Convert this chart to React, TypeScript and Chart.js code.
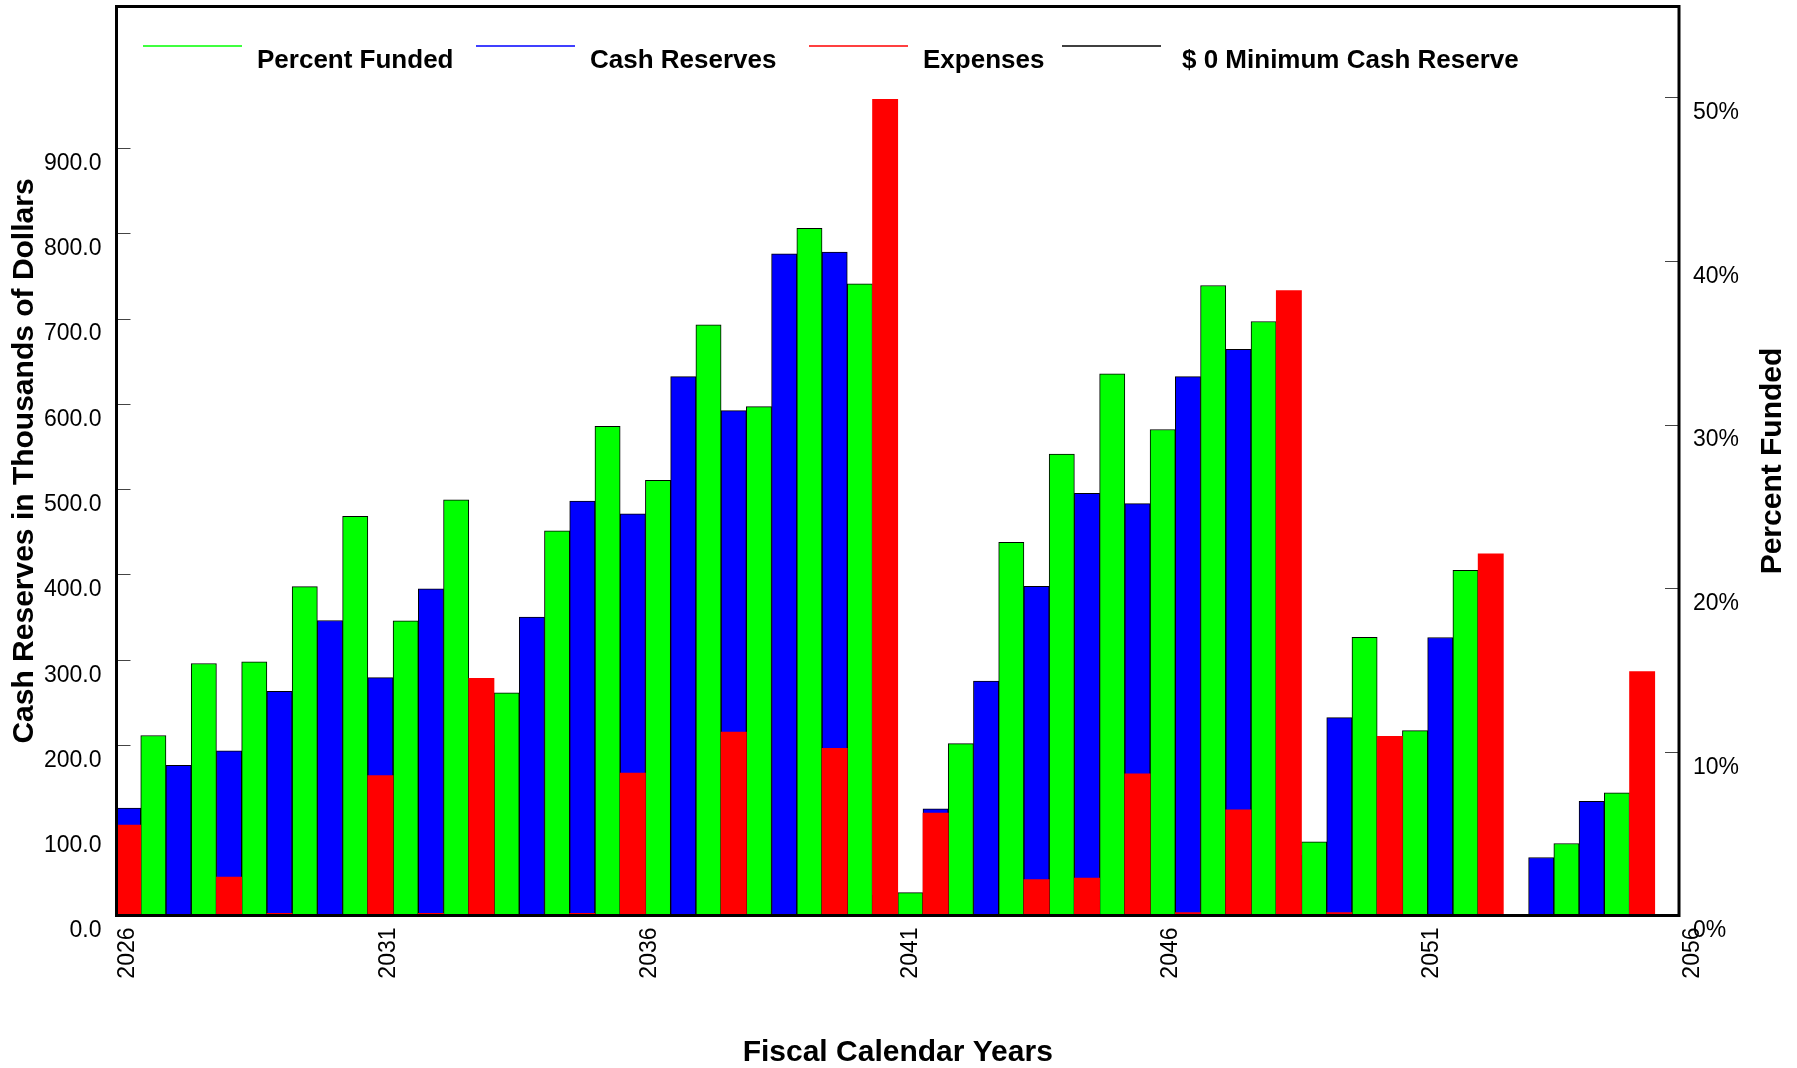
import React, { useEffect, useRef } from 'react';
import { Chart, registerables } from 'chart.js';

Chart.register(...registerables);

// ---- data ----
const years = [
  '2026', '2027', '2028', '2029', '2030', '2031', '2032', '2033', '2034', '2035',
  '2036', '2037', '2038', '2039', '2040', '2041', '2042', '2043', '2044', '2045',
  '2046', '2047', '2048', '2049', '2050', '2051', '2052', '2053', '2054', '2055', '2056',
];
const cashReserves = [
  126, 176, 193, 263, 346, 279, 383, 200, 350, 486,
  471, 632, 592, 776, 778, 24, 125, 275, 386, 495,
  483, 632, 664, 71, 232, 170, 326, 0, 68, 134, 0,
];
const expenses = [
  106, 0, 45, 2.5, 0, 164, 2.5, 278, 0, 2.5,
  167, 0, 215, 0, 196, 957, 120, 0, 42, 44,
  166, 3.5, 124, 733, 3.5, 210, 0, 424, 0, 0, 286,
];
const percentFunded = [
  11.0, 15.4, 15.5, 20.1, 24.4, 18.0, 25.4, 13.6, 23.5, 29.9,
  26.6, 36.1, 31.1, 42.0, 38.6, 1.4, 10.5, 22.8, 28.2, 33.1,
  29.7, 38.5, 36.3, 4.5, 17.0, 11.3, 21.1, 0, 4.4, 7.5, 0,
];
const minimumReserve = [
  0, 0, 0, 0, 0, 0, 0, 0, 0, 0,
  0, 0, 0, 0, 0, 0, 0, 0, 0, 0,
  0, 0, 0, 0, 0, 0, 0, 0, 0, 0, 0,
];
const cashTicks = [0, 100, 200, 300, 400, 500, 600, 700, 800, 900];
const percentTicks = [0, 10, 20, 30, 40, 50];
const yearTicks = [2026, 2031, 2036, 2041, 2046, 2051, 2056];

const FONT = '"Liberation Sans", Arial, Helvetica, sans-serif';
const RIGHT_TITLE = 'Percent Funded';

const innerTicksPlugin = {
  id: 'innerTicks',
  beforeDatasetsDraw(chart: any) {
    const { ctx, chartArea } = chart;
    ctx.save();
    ctx.strokeStyle = '#444';
    ctx.lineWidth = 1;
    const y = chart.scales.y;
    for (const t of y.ticks) {
      const py = Math.round(y.getPixelForValue(t.value)) + 0.5;
      ctx.beginPath();
      ctx.moveTo(chartArea.left, py);
      ctx.lineTo(chartArea.left + 15, py);
      ctx.stroke();
    }
    const y1 = chart.scales.y1;
    for (const t of y1.ticks) {
      const py = Math.round(y1.getPixelForValue(t.value)) + 0.5;
      ctx.beginPath();
      ctx.moveTo(chartArea.right - 15, py);
      ctx.lineTo(chartArea.right, py);
      ctx.stroke();
    }
    ctx.restore();
  },
};

const framePlugin = {
  id: 'frame',
  afterDatasetsDraw(chart: any) {
    const { ctx, chartArea } = chart;
    ctx.save();
    ctx.strokeStyle = '#000';
    ctx.lineWidth = 3;
    ctx.strokeRect(chartArea.left + 1, chartArea.top, chartArea.right - chartArea.left - 2, chartArea.bottom - chartArea.top);
    ctx.restore();
  },
};

const legendPlugin = {
  id: 'customLegend',
  afterDraw(chart: any) {
    const { ctx } = chart;
    const lineStarts = [143, 476, 809, 1062];
    const textStarts = [257, 590, 923, 1182];
    ctx.save();
    ctx.font = `bold 26px ${FONT}`;
    ctx.textBaseline = 'alphabetic';
    ctx.textAlign = 'left';
    chart.data.datasets.forEach((ds: any, i: number) => {
      const x0 = lineStarts[i];
      ctx.strokeStyle = ds.legendColor;
      ctx.lineWidth = 1.5;
      ctx.beginPath();
      ctx.moveTo(x0, 46);
      ctx.lineTo(x0 + 99, 46);
      ctx.stroke();
      ctx.fillStyle = '#000';
      ctx.fillText(ds.label, textStarts[i], 68);
    });
    // right axis title, reading bottom to top
    const ca = chart.chartArea;
    ctx.translate(chart.width - 24, (ca.top + ca.bottom) / 2);
    ctx.rotate(-Math.PI / 2);
    ctx.font = `bold 30px ${FONT}`;
    ctx.textAlign = 'center';
    ctx.textBaseline = 'middle';
    ctx.fillText(RIGHT_TITLE, 0, 0);
    ctx.restore();
  },
};

export default function App() {
  const ref = useRef<HTMLCanvasElement | null>(null);

  useEffect(() => {
    document.body.style.margin = '0';
    const canvas = ref.current;
    if (!canvas) return;
    const chart = new Chart(canvas, {
      type: 'bar',
      data: {
        labels: years,
        datasets: [
          {
            type: 'bar',
            label: 'Percent Funded',
            data: percentFunded,
            backgroundColor: '#00FF00',
            borderColor: '#000',
            borderWidth: 1,
            legendColor: '#00FF00',
            xAxisID: 'x',
            yAxisID: 'y1',
            stack: 'b',
            order: 2,
            categoryPercentage: 1,
            barPercentage: 1,
          } as any,
          {
            type: 'bar',
            label: 'Cash Reserves',
            data: cashReserves,
            backgroundColor: '#0000FF',
            borderColor: '#000',
            borderWidth: 1,
            legendColor: '#0000FF',
            xAxisID: 'x',
            yAxisID: 'y',
            stack: 'a',
            order: 1,
            categoryPercentage: 1,
            barPercentage: 1,
          } as any,
          {
            type: 'bar',
            label: 'Expenses',
            data: expenses,
            backgroundColor: '#FF0000',
            borderWidth: 0,
            legendColor: '#FF0000',
            xAxisID: 'x',
            yAxisID: 'y',
            stack: 'a',
            order: 0,
            categoryPercentage: 1,
            barPercentage: 1,
          } as any,
          {
            type: 'line',
            label: '$ 0 Minimum Cash Reserve',
            data: minimumReserve,
            borderColor: '#000',
            borderWidth: 1,
            pointRadius: 0,
            legendColor: '#000',
            xAxisID: 'x',
            yAxisID: 'y',
            order: -1,
          } as any,
        ],
      },
      options: {
        responsive: false,
        animation: false,
        layout: { padding: { top: 6.5, left: 0, right: 0, bottom: 0 } },
        plugins: {
          legend: { display: false },
          tooltip: { enabled: false },
        },
        scales: {
          x: { type: 'category', display: false },
          xl: {
            type: 'linear',
            position: 'bottom',
            offset: false,
            min: 2026,
            max: 2056,
            afterBuildTicks: (s: any) => {
              s.ticks = yearTicks.map((v) => ({ value: v }));
            },
            afterFit: (s: any) => {
              s.height = 152.5;
              s.paddingLeft = 0;
              s.paddingRight = 0;
            },
            grid: { display: false, drawTicks: false, offset: false },
            border: { display: false },
            ticks: {
              autoSkip: false,
              maxRotation: 90,
              minRotation: 90,
              padding: 12,
              labelOffset: 12.5,
              color: '#000',
              font: { family: FONT, size: 23 },
              callback: (v: any) => String(v),
            },
            title: {
              display: true,
              text: 'Fiscal Calendar Years',
              color: '#000',
              font: { family: FONT, size: 30, weight: 'bold' },
              padding: { top: 0, bottom: -3 },
            },
          },
          y: {
            type: 'linear',
            position: 'left',
            min: 0,
            max: 1066,
            stacked: false,
            afterBuildTicks: (s: any) => {
              s.ticks = cashTicks.map((v) => ({ value: v }));
            },
            afterFit: (s: any) => {
              s.width = 115.5;
              s.paddingTop = 0;
              s.paddingBottom = 0;
            },
            grid: { display: false, drawTicks: false },
            border: { display: false },
            ticks: {
              padding: 14,
              labelOffset: 15.5,
              color: '#000',
              font: { family: FONT, size: 23 },
              callback: (v: any) => Number(v).toFixed(1),
            },
            title: {
              display: true,
              text: 'Cash Reserves in Thousands of Dollars',
              color: '#000',
              font: { family: FONT, size: 30, weight: 'bold' },
              padding: { top: 7, bottom: 0 },
            },
          },
          y1: {
            type: 'linear',
            position: 'right',
            min: 0,
            max: 55.55,
            stacked: false,
            afterBuildTicks: (s: any) => {
              s.ticks = percentTicks.map((v) => ({ value: v }));
            },
            afterFit: (s: any) => {
              s.width = 117;
              s.paddingTop = 0;
              s.paddingBottom = 0;
            },
            grid: { display: false, drawTicks: false },
            border: { display: false },
            ticks: {
              padding: 13,
              labelOffset: 15.3,
              color: '#000',
              font: { family: FONT, size: 23 },
              callback: (v: any) => `${v}%`,
            },
          },
        },
      } as any,
      plugins: [innerTicksPlugin, framePlugin, legendPlugin],
    });
    return () => chart.destroy();
  }, []);

  return (
    <canvas
      ref={ref}
      width={1797}
      height={1068}
      style={{ display: 'block', width: '1797px', height: '1068px' }}
    />
  );
}
